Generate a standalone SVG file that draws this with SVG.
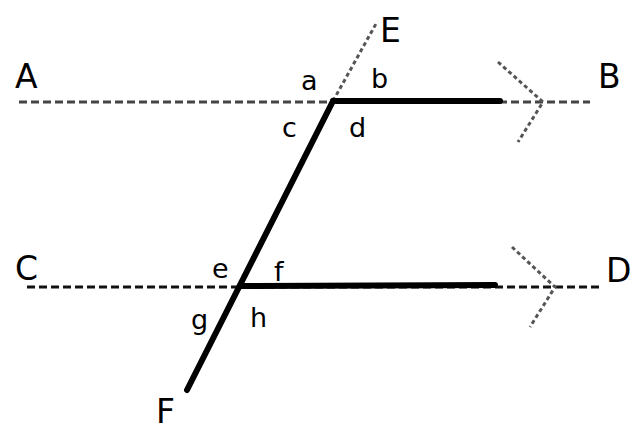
<svg xmlns="http://www.w3.org/2000/svg" width="640" height="439" viewBox="0 0 640 439">
<style>
.dash{stroke:#444;stroke-width:3;stroke-dasharray:8 4;fill:none}
.dot{stroke:#555;stroke-width:3;stroke-dasharray:4 3;fill:none}
.solid{stroke:#000;stroke-width:6;fill:none;stroke-linecap:round}
.cap{font-family:"DejaVu Sans",sans-serif;font-size:33px;fill:#000}
.low{font-family:"DejaVu Sans",sans-serif;font-size:27px;fill:#000}
</style>
<rect width="640" height="439" fill="#fff"/>
<g id="connectors">
<line class="dash" x1="19" y1="102" x2="590" y2="102"/>
<line class="dash" x1="27" y1="287" x2="600" y2="287" style="stroke:#111"/>
<line class="dot" x1="333" y1="101" x2="377" y2="22"/>
<polyline class="dot" points="498,62 543,102 518,142"/>
<polyline class="dot" points="512,247 555,287 530,327"/>
<line class="solid" x1="333" y1="101" x2="500" y2="101"/>
<line class="solid" x1="240" y1="286" x2="495" y2="285"/>
<line class="solid" x1="333" y1="101" x2="187" y2="390"/>
</g>
<g id="labels">
<text id="A" class="cap" x="15" y="88">A</text>
<text id="B" class="cap" x="598" y="88">B</text>
<text id="C" class="cap" x="15" y="280">C</text>
<text id="D" class="cap" x="606" y="282">D</text>
<text id="E" class="cap" x="380" y="42">E</text>
<text id="F" class="cap" x="156" y="423">F</text>
<text id="a" class="low" x="301" y="90">a</text>
<text id="b" class="low" x="371" y="88">b</text>
<text id="c" class="low" x="282" y="137">c</text>
<text id="d" class="low" x="349" y="137">d</text>
<text id="e" class="low" x="212" y="278">e</text>
<text id="f" class="low" x="274" y="281">f</text>
<text id="g" class="low" x="191" y="329">g</text>
<text id="h" class="low" x="250" y="327">h</text>
</g>
</svg>
